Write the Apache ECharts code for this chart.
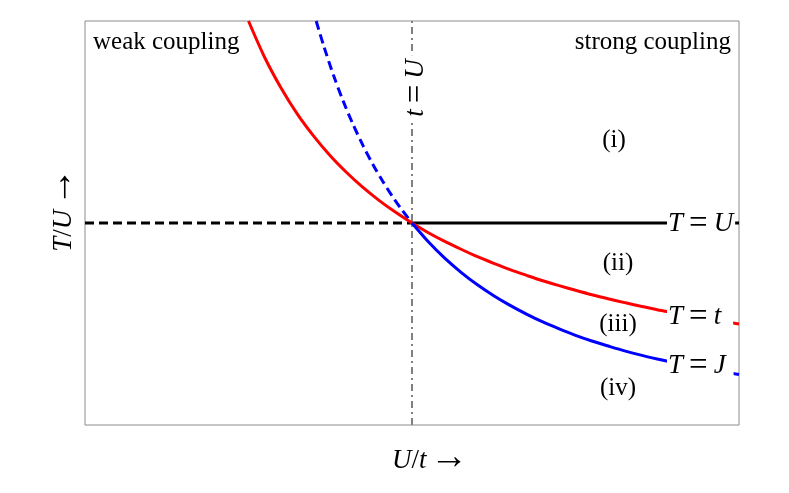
<!DOCTYPE html>
<html>
<head>
<meta charset="utf-8">
<script src="https://cdn.jsdelivr.net/npm/echarts@6/dist/echarts.min.js"></script>
<style>
  html, body { margin: 0; padding: 0; background: #fff; }
  #chart { width: 789px; height: 493px; }
</style>
</head>
<body>
<div id="chart"></div>
<script>
// U/t values and T/U values
const tuFlat = [[0, 1], [1, 1]];
const tuFlatStrong = [[1, 1], [2, 1]];
const redX = [0.5, 0.55, 0.6, 0.65, 0.7, 0.75, 0.8, 0.85, 0.9, 0.95, 1.0, 1.05, 1.1, 1.15, 1.2, 1.25, 1.3, 1.35, 1.4, 1.45, 1.5, 1.55, 1.6, 1.65, 1.7, 1.75, 1.8, 1.85, 1.9, 1.95, 2.0];
const redY = [2.0, 1.818, 1.667, 1.538, 1.429, 1.333, 1.25, 1.176, 1.111, 1.053, 1.0, 0.952, 0.909, 0.87, 0.833, 0.8, 0.769, 0.741, 0.714, 0.69, 0.667, 0.645, 0.625, 0.606, 0.588, 0.571, 0.556, 0.541, 0.526, 0.513, 0.5];
const blueDashX = [0.707, 0.73, 0.76, 0.79, 0.82, 0.85, 0.88, 0.91, 0.94, 0.97, 1.0];
const blueDashY = [2.0, 1.877, 1.731, 1.602, 1.487, 1.384, 1.291, 1.208, 1.132, 1.063, 1.0];
const blueX = [1.0, 1.05, 1.1, 1.15, 1.2, 1.25, 1.3, 1.35, 1.4, 1.45, 1.5, 1.55, 1.6, 1.65, 1.7, 1.75, 1.8, 1.85, 1.9, 1.95, 2.0];
const blueY = [1.0, 0.907, 0.826, 0.756, 0.694, 0.64, 0.592, 0.549, 0.51, 0.476, 0.444, 0.416, 0.391, 0.367, 0.346, 0.327, 0.309, 0.292, 0.277, 0.263, 0.25];
const crossover = [[1, 0], [1, 2]];

const zip = (xs, ys) => xs.map((x, i) => [x, ys[i]]);

const serif = '"Liberation Serif", "DejaVu Serif", serif';
const fs = 25;
const mathRich = {
  i: { fontFamily: serif, fontStyle: 'italic', fontSize: 27, color: '#000' },
  r: { fontFamily: serif, fontSize: 27, color: '#000' },
  e: { fontFamily: serif, fontSize: 33, color: '#000', padding: [0, 6] },
  a: { fontFamily: serif, fontSize: 38, color: '#000', verticalAlign: 'middle', padding: [0, 0, 6, 0] }
};

const chart = echarts.init(document.getElementById('chart'));

function txt(x, y, rich, opts) {
  return {
    type: 'text',
    x: x, y: y, z: 100,
    style: Object.assign({
      text: rich,
      rich: mathRich,
      font: fs + 'px ' + serif,
      fill: '#000',
      align: 'center',
      verticalAlign: 'middle'
    }, opts || {})
  };
}

const curve = (color, dashed) => ({
  color: color, width: 3, type: dashed ? [9, 5] : 'solid'
});

chart.setOption({
  animation: false,
  grid: {
    left: 85, right: 50, top: 21, bottom: 68,
    show: true, borderColor: '#8c8c8c', borderWidth: 1
  },
  xAxis: {
    type: 'value', min: 0, max: 2,
    axisLine: { show: false }, axisTick: { show: false },
    axisLabel: { show: false }, splitLine: { show: false },
    name: '{i|U}{r|/}{i|t} {a|→}',
    nameLocation: 'middle', nameGap: 14,
    nameTextStyle: { rich: mathRich, padding: [0, 0, 0, 36] }
  },
  yAxis: {
    type: 'value', min: 0, max: 2,
    axisLine: { show: false }, axisTick: { show: false },
    axisLabel: { show: false }, splitLine: { show: false },
    name: '{i|T}{r|/}{i|U} {a|→}',
    nameLocation: 'middle', nameGap: -1,
    nameTextStyle: { rich: mathRich, padding: [0, 0, 0, 26] }
  },
  series: [
    {
      type: 'line', data: crossover, symbol: 'none', z: 1,
      lineStyle: { color: '#808080', width: 2, type: [7, 4, 2, 4] }
    },
    { type: 'line', data: tuFlat, symbol: 'none', lineStyle: curve('#000', true) },
    { type: 'line', data: tuFlatStrong, symbol: 'none', lineStyle: curve('#000') },
    {
      type: 'line', data: zip(blueDashX, blueDashY), symbol: 'none',
      smooth: 0.3, lineStyle: curve('#0000ff', true)
    },
    {
      type: 'line', data: zip(redX, redY), symbol: 'none',
      smooth: 0.3, lineStyle: curve('#ff0000')
    },
    {
      type: 'line', data: zip(blueX, blueY), symbol: 'none',
      smooth: 0.3, lineStyle: curve('#0000ff')
    }
  ],
  graphic: [
    txt(93, 42, 'weak coupling', { align: 'left' }),
    txt(731, 42, 'strong coupling', { align: 'right' }),
    txt(614, 140, '(i)'),
    txt(618, 263, '(ii)'),
    txt(618, 324, '(iii)'),
    txt(618, 388, '(iv)'),
    {
      type: 'text', x: 416, y: 88, rotation: Math.PI / 2, z: 100,
      style: {
        text: '{i|t}{e|=}{i|U}', rich: mathRich,
        align: 'center', verticalAlign: 'middle',
        backgroundColor: '#fff', padding: [0, 4]
      }
    },
    txt(667, 224, '{i|T}{e|=}{i|U}', { align: 'left', backgroundColor: '#fff', padding: [0, 2, 0, 1] }),
    txt(667, 317, '{i|T}{e|=}{i|t}', { align: 'left', backgroundColor: '#fff', padding: [0, 12, 0, 1] }),
    txt(667, 366, '{i|T}{e|=}{i|J}', { align: 'left', backgroundColor: '#fff', padding: [0, 8, 0, 1] })
  ]
});
</script>
</body>
</html>
